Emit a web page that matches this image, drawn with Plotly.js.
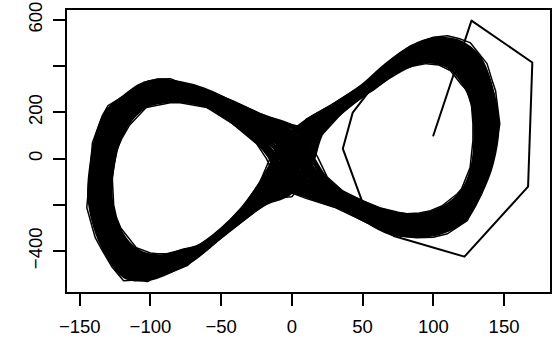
<!DOCTYPE html>
<html>
<head>
<meta charset="utf-8">
<script src="https://cdn.plot.ly/plotly-3.0.1.min.js"></script>
<style>
body{margin:0;background:#fff}
.js-line{stroke-linejoin:round;stroke-linecap:round}
</style>
</head>
<body>
<div id="chart" style="width:560px;height:339px"></div>
<script>
// Transient start of the trajectory
const transientX = [100,127,170,167,122,72,58,50,36,43,55,68];
const transientY = [100,597,416,-121,-424,-335,-250,-190,43,199,294,385];

// Loops of the figure-eight band, read across the band from one side to the other
const loop10X = [21,34,50,70,85,97,111,121,128,130,128,121,108,92,76,63,50,35,24,15,3,-22,-42,-62,-80,-95,-107,-118,-130,-137,-141,-143,-139,-131,-118,-101,-84,-71,-52,-35,-20,-2,12];
const loop10Y = [114,199,275,360,409,422,399,333,240,105,-37,-141,-211,-245,-243,-224,-191,-147,-89,-4,126,185,241,297,326,335,315,268,207,110,-8,-155,-291,-406,-509,-518,-480,-438,-345,-262,-195,-150,-45];
const loop20X = [20,33,50,70,85,97,112,122,130,132,130,122,110,94,78,64,50,34,22,12,0,-22,-42,-62,-80,-94,-106,-118,-129,-135,-140,-141,-137,-129,-116,-100,-83,-70,-52,-35,-20,-4,10];
const loop20Y = [120,202,280,365,418,434,412,346,250,110,-35,-142,-218,-254,-254,-236,-200,-154,-98,-18,112,172,231,288,316,324,304,256,194,100,-16,-160,-292,-403,-498,-506,-470,-432,-341,-256,-186,-136,-30];
const loop30X = [18,33,50,69,85,98,112,124,131,134,131,124,111,95,79,64,51,34,21,10,-2,-23,-42,-61,-80,-94,-106,-117,-128,-134,-138,-139,-135,-127,-114,-98,-82,-70,-51,-35,-21,-5,7];
const loop30Y = [127,206,284,370,426,445,426,359,260,115,-33,-143,-224,-264,-265,-247,-210,-161,-108,-32,98,158,221,280,307,314,294,244,181,90,-25,-165,-293,-400,-486,-494,-459,-425,-337,-251,-176,-122,-15];
const loop40X = [17,32,50,68,84,98,113,125,132,136,132,126,113,96,80,65,51,34,20,8,-4,-24,-42,-61,-80,-93,-106,-116,-127,-132,-136,-138,-133,-124,-112,-96,-81,-70,-51,-35,-22,-6,5];
const loop40Y = [133,210,289,375,435,456,439,372,270,120,-32,-144,-230,-273,-276,-259,-219,-168,-117,-46,84,145,211,272,298,303,284,232,168,80,-33,-170,-294,-396,-475,-482,-449,-418,-332,-246,-166,-107,0];
const loop50X = [16,31,50,68,84,98,114,126,134,138,134,127,115,98,82,66,51,33,18,5,-6,-24,-42,-61,-80,-92,-105,-116,-126,-131,-134,-136,-131,-122,-110,-95,-80,-69,-51,-35,-22,-8,3];
const loop50Y = [139,213,294,380,444,468,452,385,280,125,-30,-145,-236,-282,-287,-271,-228,-175,-126,-60,70,132,201,263,288,292,273,220,155,70,-41,-175,-295,-392,-464,-470,-439,-411,-328,-240,-156,-92,15];
const loop60X = [15,30,50,68,84,98,115,128,136,140,136,128,117,99,83,67,51,32,16,2,-8,-24,-42,-61,-80,-92,-104,-115,-124,-130,-133,-134,-129,-120,-108,-94,-79,-68,-51,-35,-22,-10,1];
const loop60Y = [145,217,299,385,453,480,466,398,290,130,-28,-146,-242,-292,-298,-283,-238,-182,-135,-74,56,118,191,254,279,282,262,208,142,60,-49,-180,-296,-389,-453,-458,-429,-404,-323,-234,-146,-78,30];
const loop70X = [14,30,50,67,84,99,116,129,137,141,138,130,119,100,84,68,51,32,14,0,-11,-24,-42,-61,-79,-91,-104,-114,-123,-128,-132,-132,-127,-118,-106,-92,-78,-68,-51,-35,-22,-12,-1];
const loop70Y = [151,221,304,390,462,491,480,411,300,135,-26,-147,-249,-302,-309,-295,-247,-189,-144,-88,42,105,181,246,270,272,252,196,129,50,-57,-185,-297,-386,-442,-446,-419,-398,-318,-229,-137,-64,45];
const loop80X = [12,30,50,66,84,100,116,130,138,143,140,132,120,102,86,68,52,32,13,-2,-14,-24,-42,-60,-79,-90,-104,-114,-122,-126,-130,-130,-125,-116,-104,-90,-77,-68,-50,-35,-22,-14,-4];
const loop80Y = [158,225,308,395,470,502,493,424,310,140,-24,-148,-256,-311,-320,-306,-256,-196,-154,-102,28,92,171,238,260,261,242,184,116,40,-66,-190,-298,-382,-430,-434,-408,-392,-314,-224,-128,-49,60];
const loop90X = [11,29,50,66,84,100,117,132,140,145,141,133,122,104,87,69,52,31,12,-5,-16,-25,-42,-60,-79,-90,-103,-114,-121,-125,-128,-128,-123,-114,-102,-89,-76,-67,-50,-35,-23,-15,-6];
const loop90Y = [164,228,313,400,479,514,506,437,320,145,-22,-149,-262,-320,-331,-318,-266,-203,-163,-116,14,78,161,229,251,250,231,172,103,30,-74,-195,-299,-378,-419,-422,-398,-385,-310,-218,-118,-34,75];

// Extreme loops along the band edges
const edgeInX = [22,35,50,57,70,76,85,95,104,112,120,124,127,128,128,126,120,117,106,98,90,81,75,62,50,36,25,18,5,-8,-23,-42,-63,-79,-86,-95,-105,-116,-130,-134,-141,-142,-145,-141,-139,-134,-127,-119,-110,-102,-93,-85,-74,-65,-52,-44,-35,-25,-11,0,14];
const edgeInY = [108,195,270,294,355,381,400,411,405,381,320,294,230,151,78,-39,-130,-152,-205,-225,-235,-238,-232,-212,-182,-140,-80,10,140,158,197,251,303,329,346,345,329,281,229,186,69,-9,-212,-300,-342,-398,-470,-528,-525,-532,-498,-490,-463,-411,-350,-312,-268,-225,-169,-165,-60];
const edgeOutX = [10,28,50,66,84,100,110,118,126,133,138,142,144,147,145,142,134,124,110,100,93,88,74,70,52,50,30,10,-8,-18,-25,-42,-60,-79,-86,-103,-115,-120,-124,-127,-126,-124,-121,-110,-100,-95,-88,-79,-70,-66,-51,-35,-23,-17,-8];
const edgeOutY = [170,232,318,405,488,525,532,520,502,450,411,330,294,150,78,-9,-152,-268,-325,-340,-342,-342,-333,-330,-275,-268,-210,-172,-130,0,65,151,221,242,242,221,143,90,35,-82,-200,-255,-300,-385,-408,-411,-410,-398,-385,-378,-312,-212,-108,-20,90];

const xTicks = [-150,-100,-50,0,50,100,150];
const xTickText = ['\u2212150','\u2212100','\u221250','0','50','100','150'];
const yTicks = [-400,-200,0,200,400,600];
const yTickText = ['\u2212400','','0','200','','600'];

// Each loop is drawn as its own closed path, starting at the top of the right lobe
const loopsX = [loop10X, loop20X, loop30X, loop40X, loop50X, loop60X, loop70X, loop80X, loop90X];
const loopsY = [loop10Y, loop20Y, loop30Y, loop40Y, loop50Y, loop60Y, loop70Y, loop80Y, loop90Y];
const START = 5;
function closedFrom(arr) { return arr.slice(START).concat(arr.slice(0, START + 1)); }
const bandX = [], bandY = [];
loopsX.forEach((lx, i) => {
  bandX.push(...closedFrom(lx), null);
  bandY.push(...closedFrom(loopsY[i]), null);
});
const edgeX = [].concat(edgeInX, [null], edgeOutX);
const edgeY = [].concat(edgeInY, [null], edgeOutY);

const traces = [
  {x: bandX, y: bandY, type: 'scatter', mode: 'lines', line: {color: '#000', width: 5, shape: 'spline', smoothing: 1}, connectgaps: false, hoverinfo: 'skip'},
  {x: edgeX, y: edgeY, type: 'scatter', mode: 'lines', line: {color: '#000', width: 1.5}, connectgaps: false, hoverinfo: 'skip'},
  {x: transientX, y: transientY, type: 'scatter', mode: 'lines', line: {color: '#000', width: 2}, hoverinfo: 'skip'}
];

const axisCommon = {
  showgrid: false, zeroline: false, showline: true, mirror: true,
  linecolor: '#000', linewidth: 2, ticks: 'outside', ticklen: 12, tickwidth: 2, tickcolor: '#000',
  tickfont: {family: 'Liberation Sans, Arial, sans-serif', size: 18.5, color: '#000'}
};

const layout = {
  width: 560, height: 339,
  margin: {l: 67, r: 10, t: 10, b: 47},
  paper_bgcolor: '#fff', plot_bgcolor: '#fff',
  showlegend: false,
  xaxis: Object.assign({}, axisCommon, {range: [-159, 182.5], tickmode: 'array', tickvals: xTicks, ticktext: xTickText, ticklabelstandoff: 5}),
  yaxis: Object.assign({}, axisCommon, {range: [-577, 643], tickmode: 'array', tickvals: yTicks, ticktext: yTickText, tickangle: -90, ticklabelstandoff: 4})
};

Plotly.newPlot('chart', traces, layout, {displayModeBar: false, staticPlot: true});
</script>
</body>
</html>
